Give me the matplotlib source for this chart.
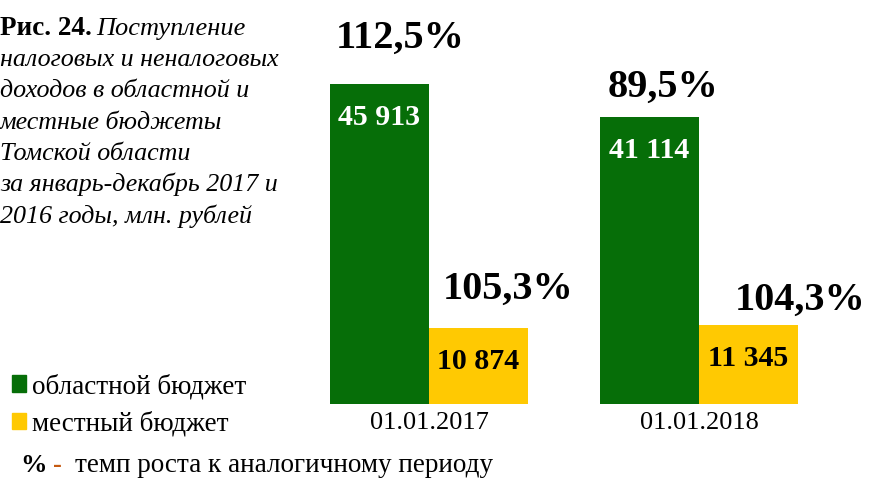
import matplotlib.pyplot as plt, numpy as np
from matplotlib.patches import Patch

# data
dates = ['01.01.2017', '01.01.2018']
oblast = [45913, 41114]
local = [10874, 11345]
oblast_growth = ['112,5%', '89,5%']
local_growth = ['105,3%', '104,3%']

W, H = 884, 479
plt.rcParams['font.family'] = ['Liberation Serif', 'DejaVu Serif']

green = '#066e08'
yellow = '#ffc902'

def fx(px):
    return px / W

def fy(py):
    return 1 - py / H

fig = plt.figure(figsize=(W / 100, H / 100), dpi=100, facecolor='w')
# axes placed in pixel units: bottom of bars at y=404
ax = fig.add_axes([fx(300), fy(404), (830 - 300) / W, 384 / H])
ax.set_xlim((300 - 429) / 270, (830 - 429) / 270)
ax.set_ylim(0, 384 / 0.00697)
ax.axis('off')

x = np.arange(len(dates))
bw = 99 / 270
b1 = ax.bar(x - bw / 2, oblast, bw, color=green, label='областной бюджет')
b2 = ax.bar(x + bw / 2, local, bw, color=yellow, label='местный бюджет')

for xi, v in zip(x, oblast):
    s = f'{v:,}'.replace(',', ' ')
    ax.annotate(s, (xi - bw / 2, v), xytext=(0, -24), textcoords='offset points',
                ha='center', va='center', color='w', fontsize=21.5, fontweight='bold')
for xi, v in zip(x, local):
    s = f'{v:,}'.replace(',', ' ')
    ax.annotate(s, (xi + bw / 2, v), xytext=(0, -24), textcoords='offset points',
                ha='center', va='center', color='k', fontsize=21.5, fontweight='bold')

# growth labels (offsets in points)
g_off = [(15, 33), (10, 22)]
l_off = [(21, 28), (37, 18)]
for xi, v, t, o in zip(x, oblast, oblast_growth, g_off):
    ax.annotate(t, (xi - bw / 2, v), xytext=o, textcoords='offset points',
                ha='center', va='center', fontsize=29, fontweight='bold')
for xi, v, t, o in zip(x, local, local_growth, l_off):
    ax.annotate(t, (xi + bw / 2, v), xytext=o, textcoords='offset points',
                ha='center', va='center', fontsize=29, fontweight='bold')

for xi, d in zip(x, dates):
    ax.annotate(d, (xi, 0), xytext=(0, -14), textcoords='offset points',
                ha='center', va='center', fontsize=19, annotation_clip=False)

# title block
fig.text(fx(0), fy(35), 'Рис. 24.', fontsize=19.5, fontweight='bold', va='baseline')
fig.text(fx(96), fy(35), 'Поступление', fontsize=19, style='italic', va='baseline')
title_lines = ['налоговых и неналоговых', 'доходов в областной и', 'местные бюджеты',
               'Томской области', 'за январь-декабрь 2017 и', '2016 годы, млн. рублей']
for i, t in enumerate(title_lines):
    fig.text(fx(0), fy(66 + i * 31.3), t, fontsize=18.7, style='italic', va='baseline')

# legend
ax.legend(handles=[Patch(color=green), Patch(color=yellow)],
          labels=['областной бюджет', 'местный бюджет'],
          loc='upper left', bbox_to_anchor=(fx(-2), fy(360)), bbox_transform=fig.transFigure,
          frameon=False, fontsize=19.5, handlelength=0.55, handleheight=0.55,
          handletextpad=0.2, labelspacing=0.45, borderpad=0)

# footnote
fig.text(fx(20), fy(472), '%', fontsize=19, fontweight='bold', va='baseline')
fig.text(fx(53), fy(472), '-', fontsize=19, fontweight='bold', va='baseline', color='#c55a11')
fig.text(fx(75), fy(472), 'темп роста к аналогичному периоду', fontsize=19.5, va='baseline')

fig.savefig('out.png', dpi=100, facecolor='w')
